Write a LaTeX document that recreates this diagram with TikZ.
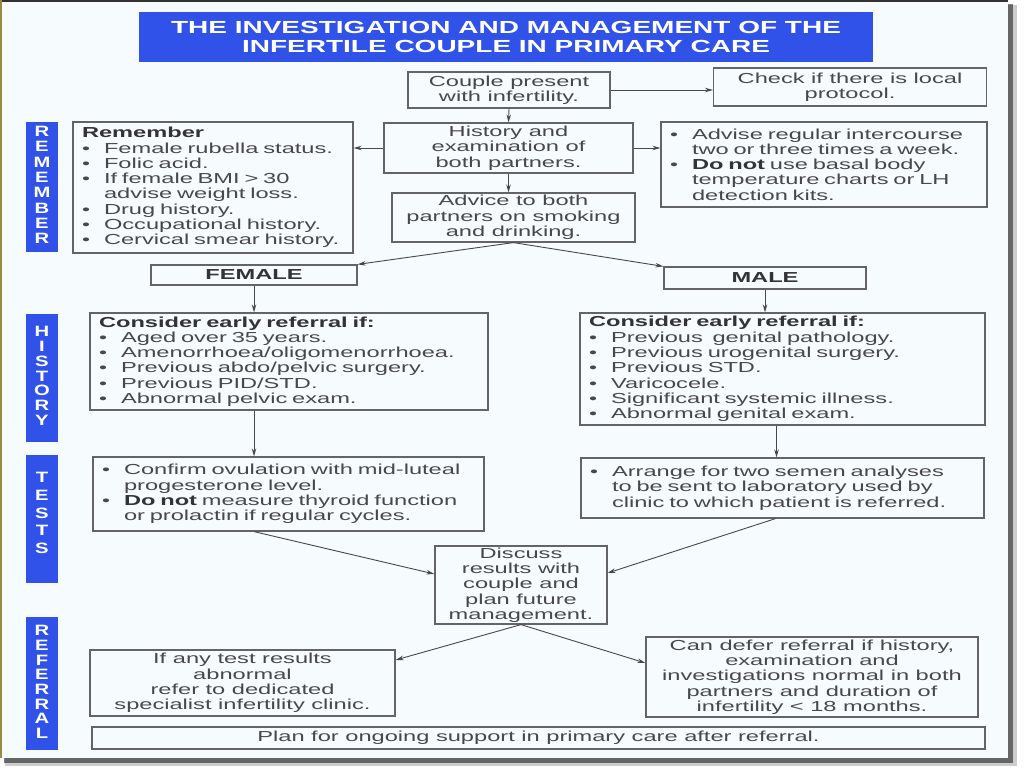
\documentclass[tikz,border=0pt]{standalone}
\usepackage{fontspec}
\setmainfont{Liberation Sans}[FakeStretch=1.63]
\newfontfamily\titlefont{Liberation Sans}[FakeStretch=1.6]
\newfontfamily\barfont{Liberation Sans}[FakeStretch=1.35]
\usetikzlibrary{arrows.meta}

\definecolor{barblue}{RGB}{48,82,232}
\definecolor{panelbg}{RGB}{246,251,254}
\definecolor{inkgray}{RGB}{72,72,72}
\definecolor{linegray}{RGB}{100,100,100}
\definecolor{edgeolive}{RGB}{150,140,60}

\newcommand\mainsize{\fontsize{14.5}{15.3}\selectfont}
\newcommand\bul{\makebox[22pt][l]{\fontsize{14}{14}\selectfont\textbullet}}
\newcommand\ind{\hspace*{22pt}}

\tikzset{
	box/.style={draw=linegray, line width=1.2pt, text=inkgray, inner sep=0pt, align=center, font=\mainsize},
	listbox/.style={box, align=left, inner xsep=9pt},
	headbox/.style={box, font=\mainsize\bfseries, text=black!80},
	link/.style={draw=inkgray, line width=0.9pt, -{Stealth[length=8pt, width=4.5pt]}}
}

\begin{document}
\begin{tikzpicture}[x=1pt, y=-1pt]
	\useasboundingbox (0,0) rectangle (1024,768);

	% page and panel
	\fill[white] (0,0) rectangle (1024,768);
	\fill[black, opacity=.2] (5,5) rectangle (1017,766);
	\fill[black, opacity=.5] (4,4) rectangle (1013,763);
	\fill[panelbg] (0,0) rectangle (1008,758);
	\draw[black!80, line width=2pt] (0,1) -- (1008,1);
	\draw[edgeolive, line width=2pt] (1,0) -- (1,758);

	% \sidebar#name#top#bottom#lettercenter#spacing#letters
	\def\sidebar#1#2#3#4#5#6{
		\fill[barblue] (26,#2) rectangle (58,#3);
		\node[text=white, inner sep=0pt, align=center, font=\barfont\fontsize{15}{#5}\selectfont\bfseries] (#1) at (42,#4) {#6};
	}
	\sidebar{remember bar}{122}{252}{185}{15.3}{R\\E\\M\\E\\M\\B\\E\\R}
	\sidebar{history bar}{314}{442}{376}{14.8}{H\\I\\S\\T\\O\\R\\Y}
	\sidebar{tests bar}{455}{583}{513}{17.7}{T\\E\\S\\T\\S}
	\sidebar{referral bar}{617}{750}{682}{14.7}{R\\E\\F\\E\\R\\R\\A\\L}

	% title
	\node[fill=barblue, text=white, minimum width=734, minimum height=50, inner sep=0pt, align=center,
		font=\titlefont\fontsize{17.5}{19}\selectfont\bfseries] (title) at (506,37)
		{THE INVESTIGATION AND MANAGEMENT OF THE\\INFERTILE COUPLE IN PRIMARY CARE};

	% top row
	\node[box, minimum width=202, minimum height=36] (couple) at (509,90) {Couple present\\with infertility.};
	\node[box, minimum width=273, minimum height=38] (check) at (850,87) {Check if there is local\\protocol.};
	\node[listbox, text width=262, minimum height=131] (remember) at (213,187.5) {
		{\bfseries\color{black!80}Remember}\\
		\bul Female rubella status.\\
		\bul Folic acid.\\
		\bul If female BMI > 30\\
		\ind advise weight loss.\\
		\bul Drug history.\\
		\bul Occupational history.\\
		\bul Cervical smear history.};
	\node[box, minimum width=249, minimum height=50] (history) at (508.5,148) {History and\\examination of\\both partners.};
	\node[listbox, text width=308, minimum height=85] (advise) at (824,164.5) {
		\bul Advise regular intercourse\\
		\ind two or three times a week.\\
		\bul {\bfseries\color{black!80}Do not} use basal body\\
		\ind temperature charts or LH\\
		\ind detection kits.};
	\node[box, minimum width=243, minimum height=49] (advice) at (513.5,217.5) {Advice to both\\partners on smoking\\and drinking.};

	% female / male
	\node[headbox, minimum width=206, minimum height=20] (female) at (254,275) {FEMALE};
	\node[headbox, minimum width=202, minimum height=22] (male) at (765,278) {MALE};

	% history
	\node[listbox, text width=380, minimum height=97] (fhist) at (289,361.5) {
		{\bfseries\color{black!80}Consider early referral if:}\\
		\bul Aged over 35 years.\\
		\bul Amenorrhoea/oligomenorrhoea.\\
		\bul Previous abdo/pelvic surgery.\\
		\bul Previous PID/STD.\\
		\bul Abnormal pelvic exam.};
	\node[listbox, text width=387, minimum height=112] (mhist) at (782.5,369) {
		{\bfseries\color{black!80}Consider early referral if:}\\
		\bul Previous\ \ genital pathology.\\
		\bul Previous urogenital surgery.\\
		\bul Previous STD.\\
		\bul Varicocele.\\
		\bul Significant systemic illness.\\
		\bul Abnormal genital exam.};

	% tests
	\node[listbox, text width=373, minimum height=74] (ftest) at (288.5,494) {
		\bul Confirm ovulation with mid-luteal\\
		\ind progesterone level.\\
		\bul {\bfseries\color{black!80}Do not} measure thyroid function\\
		\ind or prolactin if regular cycles.};
	\node[listbox, text width=385, minimum height=60] (mtest) at (782.5,488) {
		\bul Arrange for two semen analyses\\
		\ind to be sent to laboratory used by\\
		\ind clinic to which patient is referred.};
	\node[box, minimum width=172, minimum height=78] (discuss) at (521,585) {Discuss\\results with\\couple and\\plan future\\management.};

	% referral
	\node[box, minimum width=305, minimum height=66] (refer) at (242.5,683) {If any test results\\abnormal\\refer to dedicated\\specialist infertility clinic.};
	\node[box, minimum width=332, minimum height=80] (defer) at (812,677) {Can defer referral if history,\\examination and\\investigations normal in both\\partners and duration of\\infertility < 18 months.};
	\node[box, minimum width=893, minimum height=22] (plan) at (538.5,738) {Plan for ongoing support in primary care after referral.};

	% connectors
	\draw[link] (couple.east) -- (couple.east -| check.west);
	\draw[link] (couple.south) -- (history.north);
	\draw[link] (history.west) -- (history.west -| remember.east);
	\draw[link] (history.east) -- (history.east -| advise.west);
	\draw[link] (history.south) -- (history.south |- advice.north);
	\draw[link] (advice.south) -- (female.north east);
	\draw[link] (advice.south) -- (male.north west);
	\draw[link] (female.south) -- (female.south |- fhist.north);
	\draw[link] (male.south) -- (male.south |- mhist.north);
	\draw[link] (fhist.south -| female.south) -- (ftest.north -| female.south);
	\draw[link] ([xshift=-6pt]mhist.south) -- ([xshift=-6pt]mtest.north);
	\draw[link] (ftest.south -| female.south) -- ([yshift=11pt]discuss.west);
	\draw[link] ([xshift=-7pt]mtest.south) -- ([yshift=12pt]discuss.east);
	\draw[link] (discuss.south) -- ([yshift=23pt]refer.east);
	\draw[link] (discuss.south) -- ([yshift=14pt]defer.west);
\end{tikzpicture}
\end{document}
